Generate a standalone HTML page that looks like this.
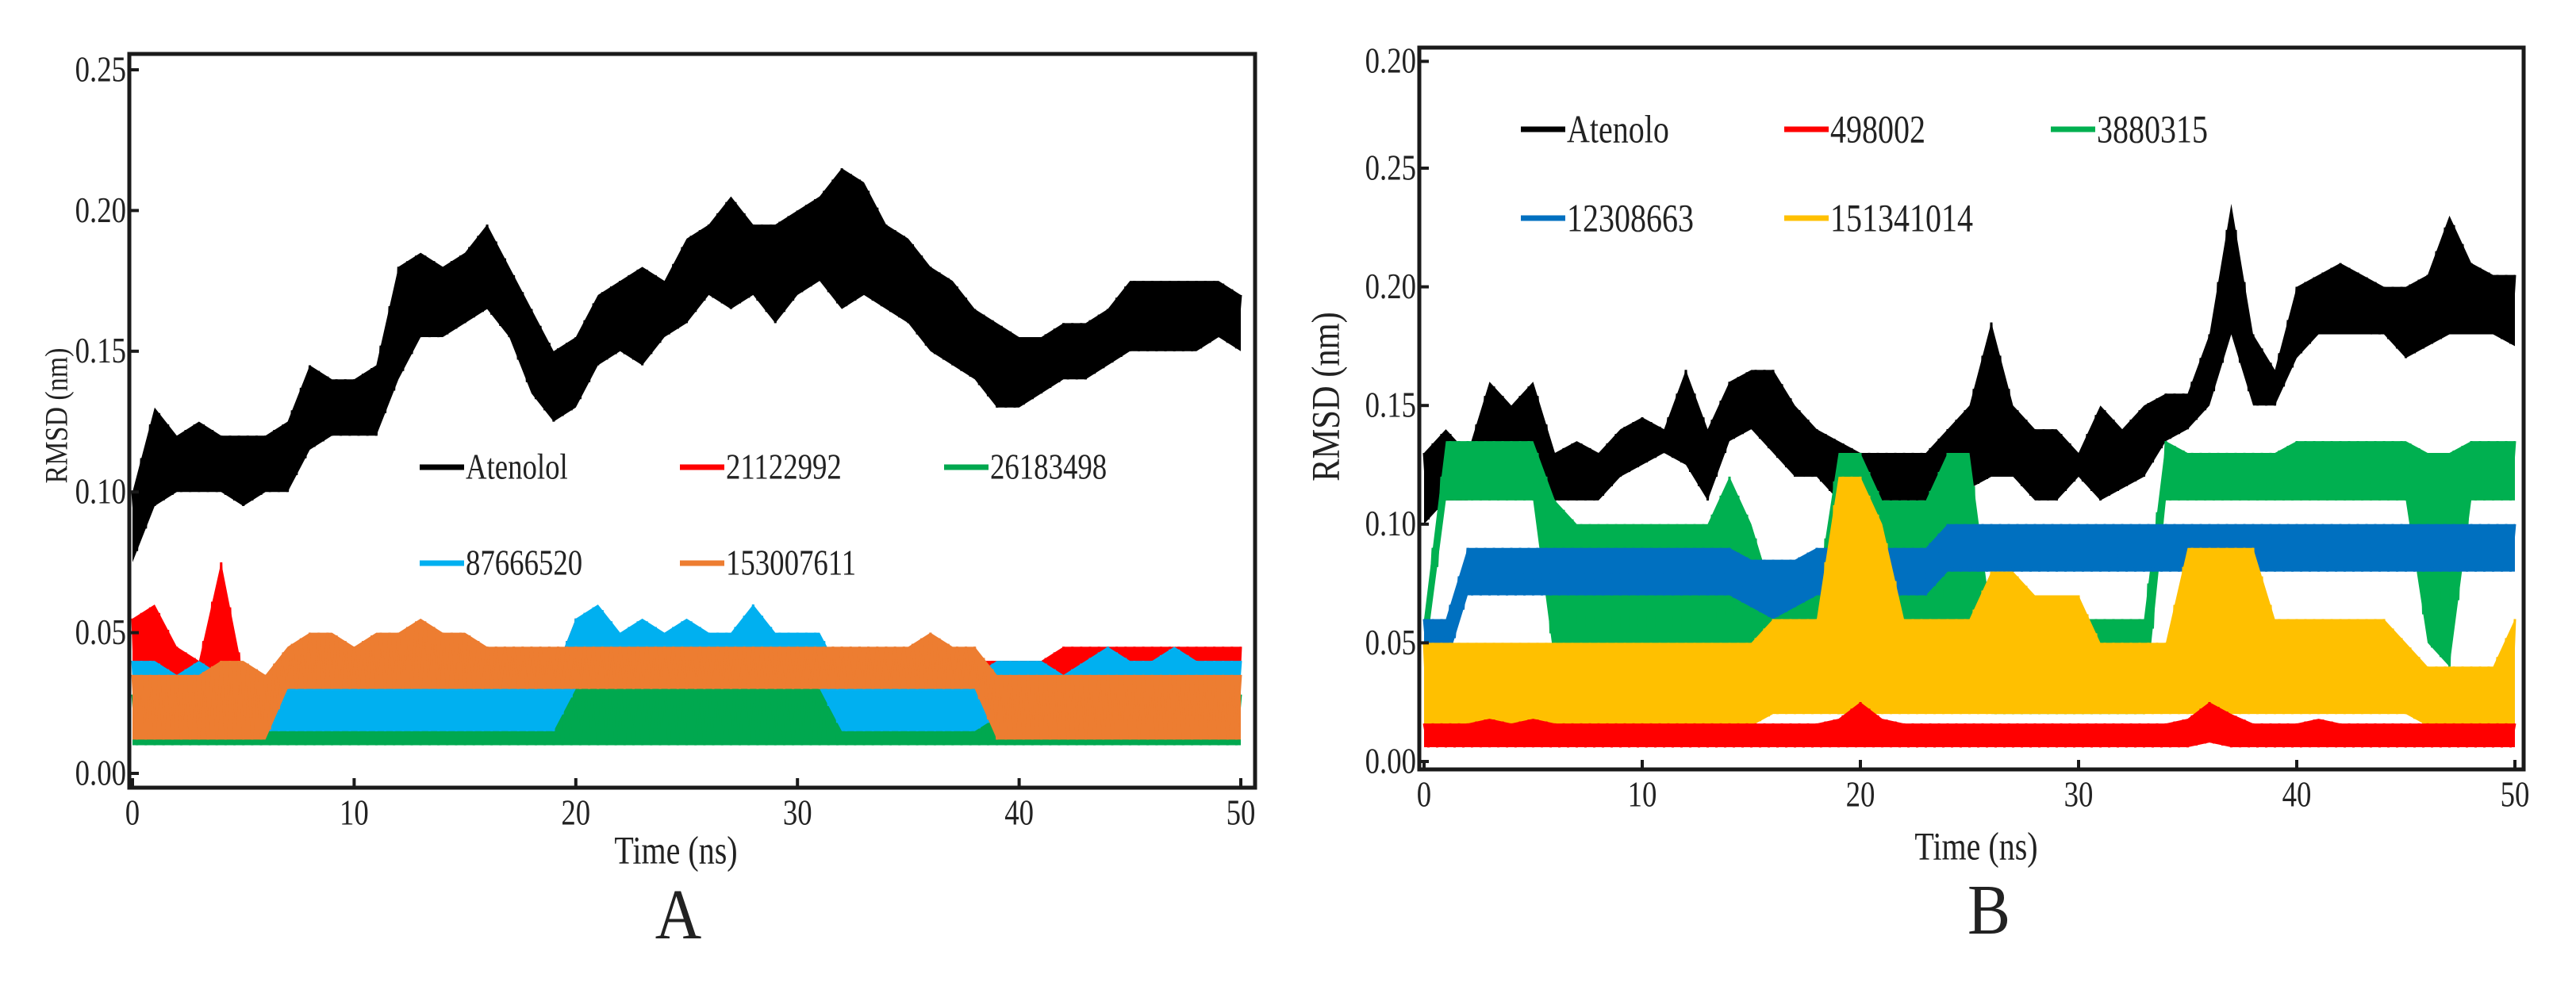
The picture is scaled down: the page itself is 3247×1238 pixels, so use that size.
<!DOCTYPE html>
<html><head><meta charset="utf-8"><style>
html,body{margin:0;padding:0;background:#fff;}
svg{display:block;}
text{font-family:"Liberation Serif",serif;fill:#222;}
</style></head>
<body>
<svg id="fig" width="3247" height="1238" viewBox="0 0 3247 1238" xmlns="http://www.w3.org/2000/svg">
<rect x="0" y="0" width="3247" height="1238" fill="#fff"/>
</svg>
<script>
// ---------- Panel A data (per ns, 0..50) ----------
const timeNs = [0,1,2,3,4,5,6,7,8,9,10,11,12,13,14,15,16,17,18,19,20,21,22,23,24,25,26,27,28,29,30,31,32,33,34,35,36,37,38,39,40,41,42,43,44,45,46,47,48,49,50];
const xTicks = [0,10,20,30,40,50];
const xTickLabels = ["0","10","20","30","40","50"];
const aYTicks = [0,0.05,0.10,0.15,0.20,0.25];
const aYTickLabels = ["0.00","0.05","0.10","0.15","0.20","0.25"];
const bYTicks = [0,0.05,0.10,0.15,0.20,0.25,0.295];
const bYTickLabels = ["0.00","0.05","0.10","0.15","0.20","0.25","0.20"];

const aAtenololHi = [.10,.13,.12,.125,.12,.12,.12,.125,.145,.14, .14,.145,.18,.185,.18,.185,.195,.18,.165,.15, .155,.17,.175,.18,.175,.19,.195,.205,.195,.195, .20,.205,.215,.21,.195,.19,.18,.175,.165,.16, .155,.155,.16,.16,.165,.175,.175,.175,.175,.175, .17];
const aAtenololLo = [.075,.095,.10,.10,.10,.095,.10,.10,.115,.12, .12,.12,.14,.155,.155,.16,.165,.155,.135,.125, .13,.145,.15,.145,.155,.16,.17,.165,.17,.16, .17,.175,.165,.17,.165,.16,.15,.145,.14,.13, .13,.135,.14,.14,.145,.15,.15,.15,.15,.155, .15];
const aRedHi = [.055,.06,.045,.04,.075,.035,.035,.035,.035,.035, .035,.035,.035,.035,.035,.035,.035,.035,.035,.035, .055,.05,.05,.045,.045,.045,.045,.045,.045,.045, .045,.045,.04,.04,.04,.04,.045,.04,.04,.04, .04,.04,.045,.045,.045,.045,.045,.045,.045,.045, .045];
const aRedLo = [.012,.012,.011,.012,.012,.012,.012,.012,.013,.012, .012,.012,.013,.012,.012,.012,.012,.012,.012,.012, .013,.013,.012,.012,.013,.012,.012,.012,.013,.012, .012,.012,.012,.012,.012,.012,.013,.012,.012,.012, .012,.012,.012,.012,.012,.012,.012,.012,.012,.012, .012];
const aGreenHi = [.028,.028,.028,.028,.028,.028,.028,.028,.03,.028, .028,.028,.028,.028,.028,.028,.028,.028,.028,.028, .032,.032,.032,.032,.032,.032,.032,.032,.032,.032, .032,.032,.03,.028,.028,.028,.028,.028,.028,.028, .028,.028,.028,.028,.028,.028,.028,.028,.028,.028, .028];
const aGreenLo = [.01,.01,.01,.01,.01,.01,.01,.01,.01,.01, .01,.01,.01,.01,.01,.01,.01,.01,.01,.01, .01,.01,.01,.01,.01,.01,.01,.01,.01,.01, .01,.01,.01,.01,.01,.01,.01,.01,.01,.01, .01,.01,.01,.01,.01,.01,.01,.01,.01,.01, .01];
const aCyanHi = [.04,.04,.035,.04,.035,.035,.035,.035,.045,.035, .035,.035,.045,.035,.035,.035,.035,.035,.035,.035, .055,.06,.05,.055,.05,.055,.05,.05,.06,.05, .05,.05,.035,.035,.035,.035,.035,.035,.035,.04, .04,.04,.035,.04,.045,.04,.04,.045,.04,.04, .04];
const aCyanLo = [.015,.015,.015,.015,.015,.015,.015,.015,.015,.015, .015,.015,.015,.015,.015,.015,.015,.015,.015,.015, .03,.03,.03,.03,.03,.03,.03,.03,.03,.03, .03,.03,.015,.015,.015,.015,.015,.015,.015,.02, .02,.02,.02,.02,.02,.02,.02,.02,.02,.02, .02];
const aOrangeHi = [.035,.035,.035,.035,.04,.04,.035,.045,.05,.05, .045,.05,.05,.055,.05,.05,.045,.045,.045,.045, .045,.045,.045,.045,.045,.045,.045,.045,.045,.045, .045,.045,.045,.045,.045,.045,.05,.045,.045,.035, .035,.035,.035,.035,.035,.035,.035,.035,.035,.035, .035];
const aOrangeLo = [.012,.012,.012,.012,.012,.012,.012,.03,.03,.03, .03,.03,.03,.03,.03,.03,.03,.03,.03,.03, .03,.03,.03,.03,.03,.03,.03,.03,.03,.03, .03,.03,.03,.03,.03,.03,.03,.03,.03,.012, .012,.012,.012,.012,.012,.012,.012,.012,.012,.012, .012];

// ---------- Panel B data ----------
const bAtenoloHi = [.13,.14,.13,.16,.15,.16,.13,.135,.13,.14, .145,.14,.165,.14,.16,.165,.165,.15,.14,.135, .13,.13,.13,.13,.14,.15,.185,.15,.14,.14, .13,.15,.14,.15,.155,.155,.18,.235,.18,.165, .20,.205,.21,.205,.20,.20,.205,.23,.21,.205, .205];
const bAtenoloLo = [.10,.11,.11,.13,.125,.13,.11,.11,.11,.12, .125,.13,.125,.11,.135,.14,.13,.12,.12,.11, .115,.11,.11,.11,.11,.115,.12,.12,.11,.11, .12,.11,.115,.12,.135,.14,.15,.18,.15,.15, .17,.18,.18,.18,.18,.17,.175,.18,.18,.18, .175];
const bGreenHi = [.06,.135,.135,.135,.135,.135,.11,.10,.10,.10, .10,.10,.10,.10,.12,.10,.07,.07,.07,.13, .13,.11,.11,.11,.13,.13,.06,.06,.06,.06, .06,.06,.06,.06,.135,.13,.13,.13,.13,.13, .135,.135,.135,.135,.135,.135,.13,.13,.135,.135, .135];
const bGreenLo = [.04,.11,.11,.11,.11,.11,.04,.04,.04,.04, .04,.04,.04,.04,.04,.04,.03,.03,.03,.02, .02,.03,.03,.03,.05,.05,.02,.02,.02,.02, .02,.02,.02,.02,.11,.11,.11,.11,.11,.11, .11,.11,.11,.11,.11,.11,.05,.04,.11,.11, .11];
const bBlueHi = [.06,.06,.09,.09,.09,.09,.09,.09,.09,.09, .09,.09,.09,.09,.09,.085,.085,.085,.09,.09, .09,.09,.09,.09,.10,.10,.10,.10,.10,.10, .10,.10,.10,.10,.10,.10,.10,.10,.10,.10, .10,.10,.10,.10,.10,.10,.10,.10,.10,.10, .10];
const bBlueLo = [.04,.04,.07,.07,.07,.07,.07,.07,.07,.07, .07,.07,.07,.07,.07,.065,.06,.065,.07,.07, .07,.07,.07,.07,.08,.08,.08,.08,.08,.08, .08,.08,.08,.08,.08,.08,.08,.08,.08,.08, .08,.08,.08,.08,.08,.08,.08,.08,.08,.08, .08];
const bYellowHi = [.05,.05,.05,.05,.05,.05,.05,.05,.05,.05, .05,.05,.05,.05,.05,.05,.06,.06,.06,.12, .12,.10,.06,.06,.06,.06,.08,.08,.07,.07, .07,.05,.05,.05,.05,.09,.09,.09,.09,.06, .06,.06,.06,.06,.06,.05,.04,.04,.04,.04, .06];
const bYellowLo = [.012,.012,.012,.012,.012,.012,.012,.012,.012,.012, .012,.012,.012,.012,.012,.015,.02,.02,.02,.02, .02,.02,.02,.02,.02,.02,.02,.02,.02,.02, .02,.02,.02,.02,.02,.02,.02,.02,.02,.02, .02,.02,.02,.02,.02,.02,.015,.015,.015,.015, .015];
const bRedHi = [.016,.016,.016,.018,.016,.018,.016,.016,.016,.016, .016,.016,.016,.016,.016,.016,.016,.016,.016,.018, .025,.018,.016,.016,.016,.016,.016,.016,.016,.016, .016,.016,.016,.016,.016,.018,.025,.02,.016,.016, .016,.018,.016,.016,.016,.016,.016,.016,.016,.016, .016];
const bRedLo = [.006,.006,.006,.006,.006,.006,.006,.006,.006,.006, .006,.006,.006,.006,.006,.006,.006,.006,.006,.006, .006,.006,.006,.006,.006,.006,.006,.006,.006,.006, .006,.006,.006,.006,.006,.006,.008,.006,.006,.006, .006,.006,.006,.006,.006,.006,.006,.006,.006,.006, .006];

const NS = "http://www.w3.org/2000/svg";
const svg = document.getElementById('fig');

function mk(tag, parent) { const e = document.createElementNS(NS, tag); parent.appendChild(e); return e; }

function makeText(parent, x, y, str, size, anchor, sx) {
  const t = mk('text', parent);
  t.setAttribute('transform', 'translate(' + x + ',' + y + ') scale(' + sx + ',1)');
  t.setAttribute('font-size', size);
  t.setAttribute('text-anchor', anchor);
  t.setAttribute('dominant-baseline', 'central');
  t.textContent = str;
  return t;
}

function drawPanel(p) {
  const g = mk('g', svg);
  
  
  const xs = v => p.x0 + (p.x50 - p.x0) * v / 50;
  const ys = v => p.y0 - (p.y0 - p.yTop) * v / p.vTop;

  const clip = mk('clipPath', g);
  clip.setAttribute('id', p.id + '-clip');
  const cr = mk('rect', clip);
  cr.setAttribute('x', p.box[0]); cr.setAttribute('y', p.box[1]);
  cr.setAttribute('width', p.box[2] - p.box[0]); cr.setAttribute('height', p.box[3] - p.box[1]);

  const plot = mk('g', g);
  plot.setAttribute('clip-path', 'url(#' + p.id + '-clip)');
  
  

  p.series.forEach(s => {
    const sg = mk('g', plot);
    
    
    let pts = [];
    for (let i = 0; i < timeNs.length; i++) pts.push(xs(timeNs[i]) + ',' + ys(s.hi[i]));
    for (let i = timeNs.length - 1; i >= 0; i--) pts.push(xs(timeNs[i]) + ',' + ys(s.lo[i]));
    const poly = mk('polygon', sg);
    poly.setAttribute('points', pts.join(' '));
    poly.setAttribute('fill', s.color);
    // jagged texture along the band (interpolated between ns samples)
    const z = [];
    const sub = 5;
    for (let k = 0; k <= (timeNs.length - 1) * sub; k++) {
      const i = Math.floor(k / sub), f = (k % sub) / sub;
      const j = Math.min(i + 1, timeNs.length - 1);
      const t = timeNs[i] + (timeNs[j] - timeNs[i]) * f;
      const hi = s.hi[i] + (s.hi[j] - s.hi[i]) * f;
      const lo = s.lo[i] + (s.lo[j] - s.lo[i]) * f;
      z.push(xs(t) + ',' + ys(k % 2 ? lo : hi));
    }
    const pl = mk('polyline', sg);
    pl.setAttribute('points', z.join(' '));
    pl.setAttribute('fill', 'none');
    pl.setAttribute('stroke', s.color);
    pl.setAttribute('stroke-width', '3');
  });

  // frame
  const fr = mk('rect', g);
  
  
  fr.setAttribute('x', p.box[0]); fr.setAttribute('y', p.box[1]);
  fr.setAttribute('width', p.box[2] - p.box[0]); fr.setAttribute('height', p.box[3] - p.box[1]);
  fr.setAttribute('fill', 'none'); fr.setAttribute('stroke', '#1a1a1a'); fr.setAttribute('stroke-width', '5');

  // x ticks
  xTicks.forEach((v, i) => {
    const tk = mk('line', g);
    
    
    tk.setAttribute('x1', xs(v)); tk.setAttribute('x2', xs(v));
    tk.setAttribute('y1', p.box[3]); tk.setAttribute('y2', p.box[3] - 12);
    tk.setAttribute('stroke', '#1a1a1a'); tk.setAttribute('stroke-width', '4');
    const t = makeText(g, xs(v), p.box[3] + 32, xTickLabels[i], 46, 'middle', 0.8);
    
    
  });
  // y ticks
  p.yTicks.forEach((v, i) => {
    const tk = mk('line', g);
    
    
    tk.setAttribute('x1', p.box[0]); tk.setAttribute('x2', p.box[0] + 12);
    tk.setAttribute('y1', ys(v)); tk.setAttribute('y2', ys(v));
    tk.setAttribute('stroke', '#1a1a1a'); tk.setAttribute('stroke-width', '4');
    const t = makeText(g, p.box[0] - 4, ys(v), p.yLabels[i], 46, 'end', 0.8);
    
    
  });

  const xt = makeText(g, p.xTitle[0], p.xTitle[1], 'Time (ns)', 50, 'middle', 0.8);
  
  
  const yt = mk('text', g);
  yt.setAttribute('transform', 'translate(' + p.yTitle[0] + ',' + p.yTitle[1] + ') rotate(-90) scale(0.85,1)');
  yt.setAttribute('font-size', p.yTitleSize);
  yt.setAttribute('text-anchor', 'middle');
  yt.setAttribute('dominant-baseline', 'central');
  yt.textContent = 'RMSD (nm)';
  
  

  const pl = makeText(g, p.panelLabel[0], p.panelLabel[1], p.letter, 90, 'middle', 0.9);
  
  

  // legend
  p.legend.forEach(L => {
    const lg = mk('g', g);
    
    
    const ln = mk('line', lg);
    ln.setAttribute('x1', L.x); ln.setAttribute('x2', L.x + 56);
    ln.setAttribute('y1', L.y); ln.setAttribute('y2', L.y);
    ln.setAttribute('stroke', L.color); ln.setAttribute('stroke-width', '7');
    makeText(lg, L.x + 58, L.y, L.label, p.legendSize, 'start', 0.8);
  });
}

drawPanel({
  id: 'A', name: 'panel-a-chart', letter: 'A',
  x0: 167, x50: 1564, y0: 975, yTop: 88, vTop: 0.25,
  box: [163, 68, 1582, 993],
  yTicks: aYTicks, yLabels: aYTickLabels,
  xTitle: [852, 1072], yTitle: [72, 524], yTitleSize: 40, panelLabel: [855, 1153],
  legendSize: 46,
  series: [
    {key: 'atenolol', hi: aAtenololHi, lo: aAtenololLo, color: '#000000'},
    {key: '21122992', hi: aRedHi, lo: aRedLo, color: '#ff0000'},
    {key: '26183498', hi: aGreenHi, lo: aGreenLo, color: '#00a84f'},
    {key: '87666520', hi: aCyanHi, lo: aCyanLo, color: '#00b0f0'},
    {key: '153007611', hi: aOrangeHi, lo: aOrangeLo, color: '#ed7d31'}
  ],
  legend: [
    {x: 529, y: 589, label: 'Atenolol', color: '#000'},
    {x: 857, y: 589, label: '21122992', color: '#ff0000'},
    {x: 1190, y: 589, label: '26183498', color: '#00a84f'},
    {x: 529, y: 710, label: '87666520', color: '#00b0f0'},
    {x: 857, y: 710, label: '153007611', color: '#ed7d31'}
  ]
});

drawPanel({
  id: 'B', name: 'panel-b-chart', letter: 'B',
  x0: 1795, x50: 3170, y0: 960, yTop: 212, vTop: 0.25,
  box: [1789, 60, 3181, 970],
  yTicks: bYTicks, yLabels: bYTickLabels,
  xTitle: [2491, 1067], yTitle: [1672, 500], yTitleSize: 50, panelLabel: [2507, 1147],
  legendSize: 50,
  series: [
    {key: 'atenolo', hi: bAtenoloHi, lo: bAtenoloLo, color: '#000000'},
    {key: '3880315', hi: bGreenHi, lo: bGreenLo, color: '#00b050'},
    {key: '12308663', hi: bBlueHi, lo: bBlueLo, color: '#0070c0'},
    {key: '151341014', hi: bYellowHi, lo: bYellowLo, color: '#ffc000'},
    {key: '498002', hi: bRedHi, lo: bRedLo, color: '#ff0000'}
  ],
  legend: [
    {x: 1917, y: 163, label: 'Atenolo', color: '#000'},
    {x: 2249, y: 163, label: '498002', color: '#ff0000'},
    {x: 2585, y: 163, label: '3880315', color: '#00b050'},
    {x: 1917, y: 275, label: '12308663', color: '#0070c0'},
    {x: 2249, y: 275, label: '151341014', color: '#ffc000'}
  ]
});
</script>
</body></html>
